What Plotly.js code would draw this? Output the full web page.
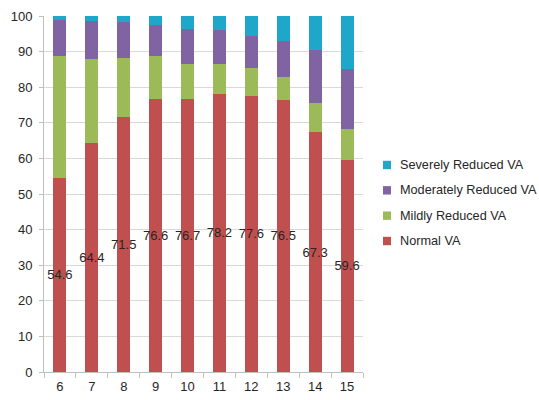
<!DOCTYPE html>
<html>
<head>
<meta charset="utf-8">
<script src="https://cdn.plot.ly/plotly-3.0.1.min.js"></script>
<style>
  html, body { margin: 0; padding: 0; background: #fff; }
  #chart { width: 539px; height: 400px; }
</style>
</head>
<body>
<div id="chart"></div>
<script>
// Age groups on the x axis
const ages = ['6', '7', '8', '9', '10', '11', '12', '13', '14', '15'];

// Share of children (%) in each visual acuity category, stacked to 100
const normalVA     = [54.6, 64.4, 71.5, 76.6, 76.7, 78.2, 77.6, 76.5, 67.3, 59.6];
const mildlyVA     = [34.2, 23.6, 16.8, 12.3,  9.9,  8.4,  7.7,  6.4,  8.3,  8.6];
const moderatelyVA = [10.2, 10.7, 10.1,  8.7,  9.8,  9.4,  9.0, 10.1, 14.8, 16.8];
const severelyVA   = [ 1.0,  1.3,  1.6,  2.4,  3.6,  4.0,  5.7,  7.0,  9.6, 15.0];

const yTicks = [0, 10, 20, 30, 40, 50, 60, 70, 80, 90, 100];

const FONT = 'Liberation Sans, Arial, sans-serif';
const TEXT = '#262626';

// Series names and colours, listed top-down as they appear in the key
const seriesNames  = ['Severely Reduced VA', 'Moderately Reduced VA', 'Mildly Reduced VA', 'Normal VA'];
const seriesColors = ['#1FA7C9', '#8064A2', '#9BBB59', '#C0504D'];

function series(name, values, color) {
  return {
    type: 'bar',
    name: name,
    x: ages,
    y: values,
    showlegend: false,
    marker: { color: color, line: { width: 0 } },
    hoverinfo: 'x+y+name'
  };
}

const normal = series(seriesNames[3], normalVA, seriesColors[3]);
normal.text = normalVA.map(v => v.toFixed(1));
normal.texttemplate = '%{text}';
normal.textposition = 'inside';
normal.insidetextanchor = 'middle';
normal.constraintext = 'none';
normal.textangle = 0;
normal.insidetextfont = { family: FONT, size: 13, color: TEXT };

const data = [
  normal,
  series(seriesNames[2], mildlyVA, seriesColors[2]),
  series(seriesNames[1], moderatelyVA, seriesColors[1]),
  series(seriesNames[0], severelyVA, seriesColors[0])
];

// Key on the right: a small swatch and a label per series, placed in paper units
const keyTop = 0.5815;     // vertical centre of the first entry
const keyStep = 0.0712;    // spacing between entries
const swatchX0 = 1.0627, swatchX1 = 1.0878, swatchHalf = 0.0118;
const labelX = 1.1097;

const shapes = [];
const annotations = [];
seriesNames.forEach((name, i) => {
  const yc = keyTop - i * keyStep;
  shapes.push({
    type: 'rect', xref: 'paper', yref: 'paper',
    x0: swatchX0, x1: swatchX1, y0: yc - swatchHalf, y1: yc + swatchHalf,
    fillcolor: seriesColors[i], line: { width: 0 }
  });
  annotations.push({
    xref: 'paper', yref: 'paper', x: labelX, y: yc,
    xanchor: 'left', yanchor: 'middle', showarrow: false,
    text: name,
    font: { family: FONT, size: 12.7, color: TEXT }
  });
});

const layout = {
  width: 539,
  height: 400,
  margin: { l: 44, r: 176, t: 16, b: 28 },
  paper_bgcolor: '#ffffff',
  plot_bgcolor: '#ffffff',
  barmode: 'stack',
  bargap: 0.59,
  font: { family: FONT, size: 13, color: TEXT },
  showlegend: false,
  shapes: shapes,
  annotations: annotations,
  xaxis: {
    type: 'category',
    tickson: 'boundaries',
    ticks: 'outside',
    ticklen: 5,
    tickcolor: '#BFBFBF',
    showline: true,
    linecolor: '#BFBFBF',
    linewidth: 1,
    showgrid: false,
    ticklabelstandoff: 2,
    tickfont: { family: FONT, size: 13, color: TEXT }
  },
  yaxis: {
    range: [0, 100],
    tickvals: yTicks,
    ticktext: yTicks.map(String),
    ticks: 'outside',
    ticklen: 4,
    tickcolor: '#BFBFBF',
    showline: true,
    linecolor: '#BFBFBF',
    linewidth: 1,
    showgrid: true,
    gridcolor: '#D9D9D9',
    gridwidth: 1,
    zeroline: false,
    ticklabelstandoff: 4,
    tickfont: { family: FONT, size: 13, color: TEXT }
  }
};

Plotly.newPlot('chart', data, layout, { displayModeBar: false, staticPlot: true });
</script>
</body>
</html>
